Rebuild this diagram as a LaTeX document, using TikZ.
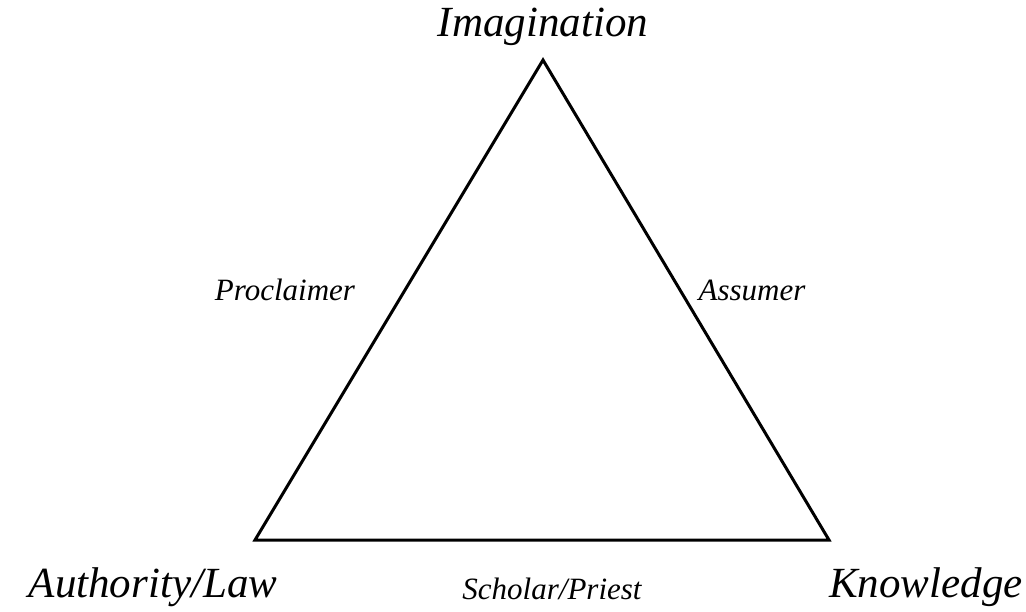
\documentclass[tikz,border=0pt]{standalone}
\usepackage{fontspec}
\setmainfont{Liberation Serif}
\begin{document}
\begin{tikzpicture}[x=1pt,y=-1pt,
  big/.style={font=\fontsize{43}{46}\selectfont\itshape, inner sep=0pt},
  small/.style={font=\fontsize{31}{34}\selectfont\itshape, inner sep=0pt},
  edge/.style={line width=3pt, line join=miter}]
\useasboundingbox (0,0) rectangle (1026,612);
\coordinate (top) at (543,60);
\coordinate (bl) at (255,540);
\coordinate (br) at (829,540);
\draw[edge] (top) -- (bl) -- (br) -- cycle;
\node[big] (imag) at (543,27) {Imagination};
\node[big] (auth) at (153,587) {Authority/Law};
\node[big] (know) at (926,587) {Knowledge};
\node[small] (schol) at (552,589) {Scholar/Priest};
\node[small] (proc) at (285,290) {Proclaimer};
\node[small] (assu) at (752,290) {Assumer};
\end{tikzpicture}
\end{document}
